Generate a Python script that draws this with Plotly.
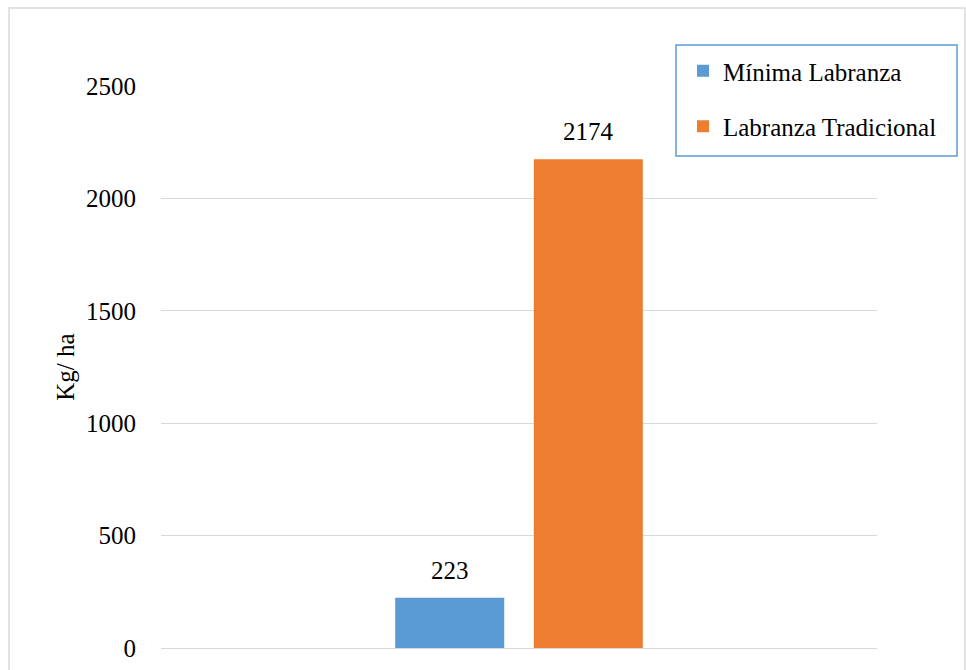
import plotly.graph_objects as go

# Yield per tillage system (kg/ha)
categories = ["Rendimiento"]
series_names = ["Mínima Labranza", "Labranza Tradicional"]
minima_labranza = [223]
labranza_tradicional = [2174]
y_ticks = [0, 500, 1000, 1500, 2000, 2500]

colors = ["#5B9BD5", "#ED7D31"]
font_family = "Liberation Serif, Times New Roman, serif"
fs = 25

W, H = 966, 670
L, R, T, B = 161, 89, 86, 22
pw, ph = W - L - R, H - T - B
bargap = 0.613


def px_x(x):
    return (x - L) / pw


def px_y(y):
    return (H - B - y) / ph


fig = go.Figure()
all_vals = [minima_labranza, labranza_tradicional]
for name, vals, col in zip(series_names, all_vals, colors):
    fig.add_trace(go.Bar(
        x=categories, y=vals, name=name, legendgroup=name,
        marker=dict(color=col, line=dict(width=0)),
        hoverinfo="name+y",
    ))

# value labels above each bar, placed from the bar values
slot = (1 - bargap) / len(all_vals)
annotations = []
for i, vals in enumerate(all_vals):
    offset = -(1 - bargap) / 2 + slot * (i + 0.5)
    for ci, v in enumerate(vals):
        annotations.append(dict(
            x=ci + offset, y=v, xref="x", yref="y", text=str(v),
            showarrow=False, yanchor="bottom", yshift=12,
            font=dict(family=font_family, size=fs, color="#000000"),
        ))

fig.update_layout(
    width=W, height=H,
    margin=dict(l=L, r=R, t=T, b=B, autoexpand=False),
    paper_bgcolor="white", plot_bgcolor="white",
    barmode="group", bargap=bargap, bargroupgap=0.213,
    font=dict(family=font_family, size=fs, color="#000000"),
    showlegend=True,
    legend=dict(
        x=px_x(683), y=px_y(48), xanchor="left", yanchor="top",
        bgcolor="rgba(0,0,0,0)", borderwidth=0,
        font=dict(family=font_family, size=fs, color="#000000"),
        traceorder="grouped", tracegroupgap=20, itemwidth=30,
    ),
    xaxis=dict(showticklabels=False, showgrid=False, zeroline=False,
               showline=False, ticks="", range=[-0.5, 0.5]),
    yaxis=dict(
        range=[0, 2500], tickvals=y_ticks, ticktext=[str(v) for v in y_ticks],
        showgrid=True, gridcolor="#D9D9D9", gridwidth=1.3,
        zeroline=True, zerolinecolor="#D9D9D9", zerolinewidth=1.3,
        showline=False, ticks="", ticklabelstandoff=24, automargin=False,
        tickfont=dict(family=font_family, size=fs, color="#000000"),
        title=dict(text="Kg/ ha", standoff=4,
                   font=dict(family=font_family, size=fs, color="#000000")),
    ),
    annotations=annotations,
    shapes=[
        # outer chart frame
        dict(type="rect", xref="paper", yref="paper",
             x0=px_x(9), x1=px_x(965), y0=px_y(700), y1=px_y(8),
             line=dict(color="#D9D9D9", width=1.5), fillcolor="rgba(0,0,0,0)",
             layer="below"),
        # legend frame
        dict(type="rect", xref="paper", yref="paper",
             x0=px_x(676), x1=px_x(957), y0=px_y(156), y1=px_y(45),
             line=dict(color="#5B9BD5", width=1.5), fillcolor="white",
             layer="below"),
    ],
)

fig.write_html("out.html")
